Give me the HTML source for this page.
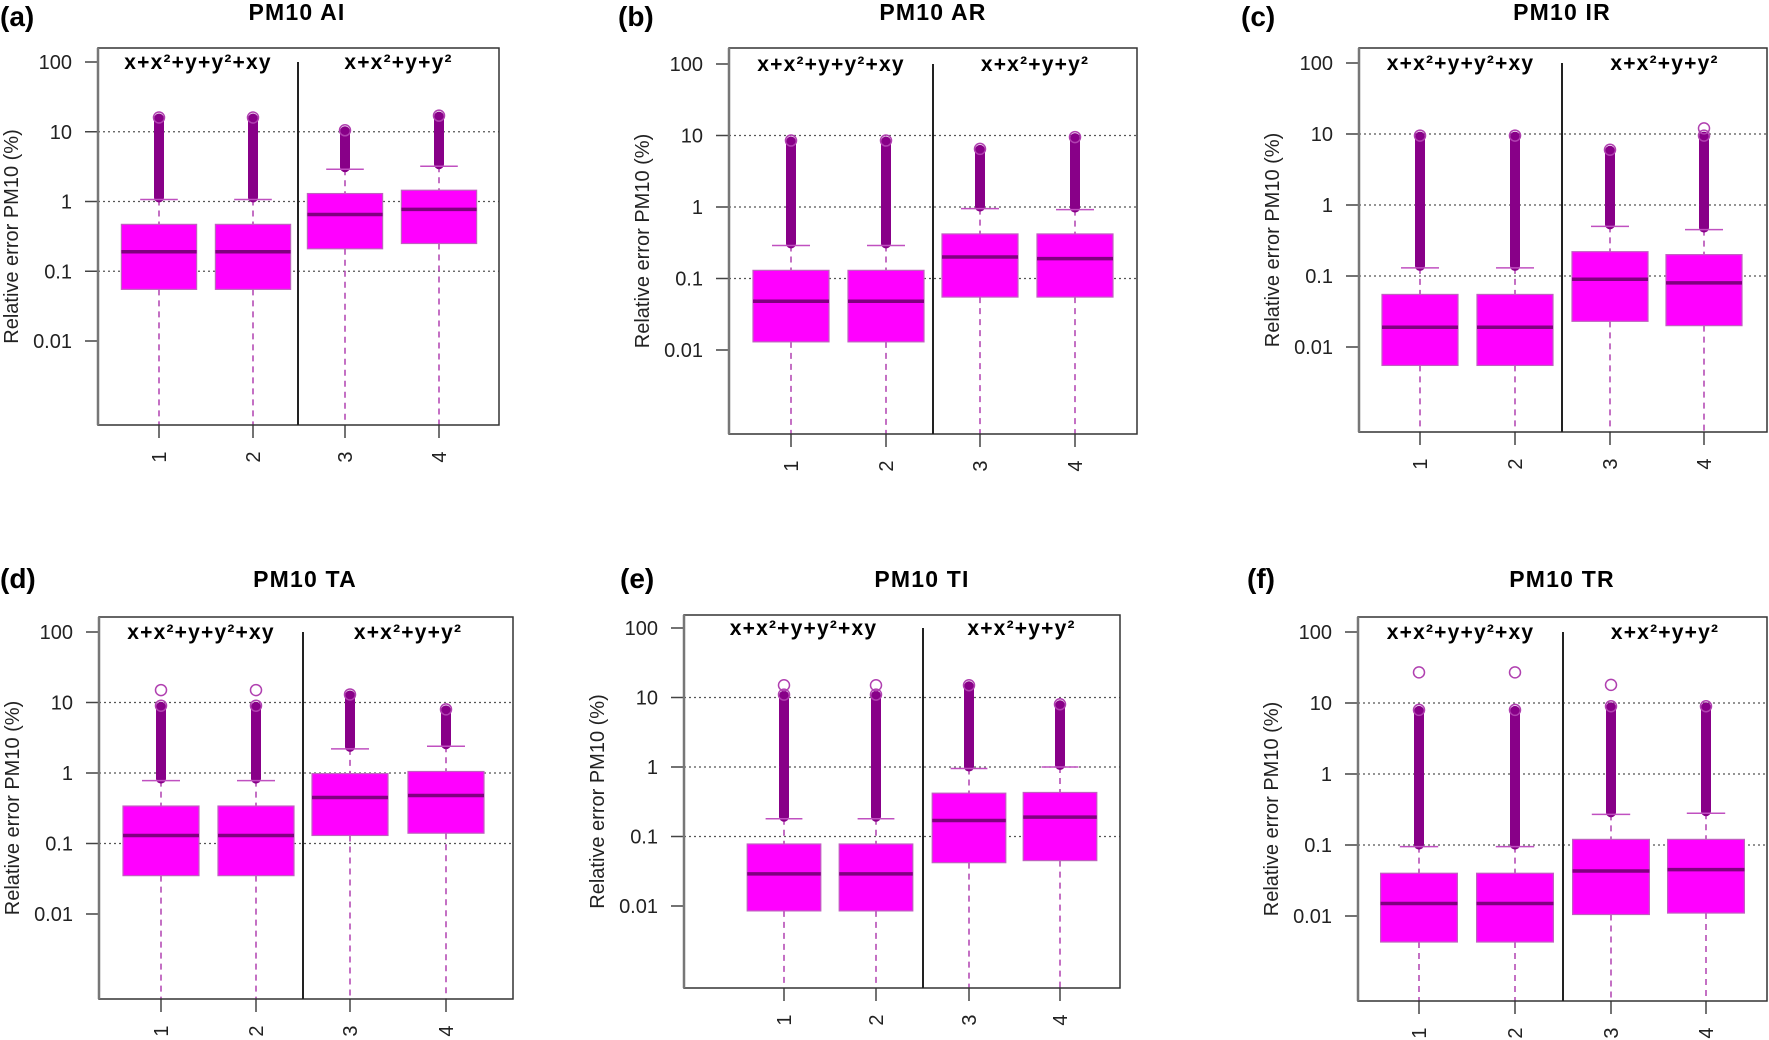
<!DOCTYPE html>
<html><head><meta charset="utf-8"><style>
html,body{margin:0;padding:0;background:#fff;}
svg{display:block;font-family:"Liberation Sans",sans-serif;}
</style></head><body>
<svg id="fig" width="1769" height="1040" viewBox="0 0 1769 1040"></svg>
<script>
// ---- data (values in %) ----
const panelTitles = ["PM10 AI","PM10 AR","PM10 IR","PM10 TA","PM10 TI","PM10 TR"];
const panelLetters = ["(a)","(b)","(c)","(d)","(e)","(f)"];
const categories = ["1","2","3","4"];
const groupLabels = ["x+x²+y+y²+xy","x+x²+y+y²"];
const yTickValues = [100,10,1,0.1,0.01];
const yTickLabels = ["100","10","1","0.1","0.01"];
const gridValues = [10,1,0.1];
const q1Values = [
 [0.055,0.055,0.21,0.25],[0.013,0.013,0.055,0.055],[0.0055,0.0055,0.023,0.02],
 [0.035,0.035,0.13,0.14],[0.0085,0.0085,0.042,0.045],[0.0043,0.0043,0.0105,0.011]];
const medianValues = [
 [0.19,0.19,0.65,0.77],[0.048,0.048,0.2,0.19],[0.019,0.019,0.09,0.08],
 [0.13,0.13,0.45,0.48],[0.029,0.029,0.17,0.19],[0.015,0.015,0.043,0.045]];
const q3Values = [
 [0.47,0.47,1.3,1.45],[0.13,0.13,0.42,0.42],[0.055,0.055,0.22,0.2],
 [0.34,0.34,0.98,1.05],[0.078,0.078,0.42,0.43],[0.04,0.04,0.12,0.12]];
const whiskerTopValues = [
 [1.07,1.07,2.9,3.2],[0.29,0.29,0.95,0.92],[0.13,0.13,0.5,0.45],
 [0.78,0.78,2.2,2.4],[0.18,0.18,0.95,1.0],[0.095,0.095,0.27,0.28]];
const denseOutlierMax = [
 [16,16,10.5,17],[8.5,8.5,6.5,9.5],[9.5,9.5,6,9.5],
 [9,9,13,8],[11,11,15,8],[8,8,9,9]];
const isolatedOutliers = [
 [[],[],[],[]],[[],[],[],[]],[[],[],[],[12]],
 [[15],[15],[],[]],[[15],[15],[],[]],[[27],[27],[18],[]]];

// ---- layout (positions only) ----
const layout = [
 {l:98,t:48,r:499,b:425,y100:62,y001:341,cx:[159,253,345,439],div:298,lx:0,ly:26,tx:297,ty:20},
 {l:729,t:48,r:1137,b:434,y100:64,y001:350,cx:[791,886,980,1075],div:933,lx:618,ly:26,tx:933,ty:20},
 {l:1359,t:48,r:1767,b:432,y100:63,y001:347,cx:[1420,1515,1610,1704],div:1562,lx:1241,ly:26,tx:1562,ty:20},
 {l:99,t:617,r:513,b:999,y100:632,y001:914,cx:[161,256,350,446],div:303,lx:0,ly:588,tx:305,ty:587},
 {l:684,t:615,r:1120,b:988,y100:628,y001:906,cx:[784,876,969,1060],div:923,lx:620,ly:588,tx:922,ty:587},
 {l:1358,t:617,r:1767,b:1001,y100:632,y001:916,cx:[1419,1515,1611,1706],div:1563,lx:1247,ly:588,tx:1562,ty:587}
];
const NS="http://www.w3.org/2000/svg";
const svg=document.getElementById('fig');
function mk(tag,attrs,parent){const e=document.createElementNS(NS,tag);for(const k in attrs)e.setAttribute(k,attrs[k]);(parent||svg).appendChild(e);return e;}

layout.forEach((L,p)=>{
  const g=mk('g',{});
  
  
  const dec=(L.y001-L.y100)/4;
  const yS=v=>L.y100+(2-Math.log10(v))*dec;
  const half=(L.cx[1]-L.cx[0])*0.4;

  let t=mk('text',{x:L.lx,y:L.ly,'font-size':28,'font-weight':'bold'},g);t.textContent=panelLetters[p];
  
  
  t=mk('text',{x:L.tx,y:L.ty,'font-size':23,'font-weight':'bold','text-anchor':'middle','letter-spacing':1.2},g);t.textContent=panelTitles[p];
  
  

  gridValues.forEach(v=>{
    const gl=mk('line',{x1:L.l,x2:L.r,y1:yS(v),y2:yS(v),stroke:'#555','stroke-width':1.3,'stroke-dasharray':'2,3'},g);
    
    
  });
  yTickValues.forEach((v,i)=>{
    const y=yS(v);
    mk('line',{x1:L.l-13,x2:L.l,y1:y,y2:y,stroke:'#444','stroke-width':1.5},g);
    const tl=mk('text',{x:L.l-26,y:y+7,'font-size':20,'text-anchor':'end',fill:'#222'},g);tl.textContent=yTickLabels[i];
    
    
  });
  const cy=(L.t+L.b)/2;
  const yt=mk('text',{x:0,y:0,'font-size':20,'text-anchor':'middle',fill:'#222',transform:`translate(${L.l-80},${cy}) rotate(-90)`},g);
  yt.textContent='Relative error PM10 (%)';
  
  

  categories.forEach((c,i)=>{
    const x=L.cx[i];
    const q1=yS(q1Values[p][i]),md=yS(medianValues[p][i]),q3=yS(q3Values[p][i]),wt=yS(whiskerTopValues[p][i]),om=yS(denseOutlierMax[p][i]);
    mk('line',{x1:x,x2:x,y1:q1,y2:L.b,stroke:'#b040b0','stroke-width':1.5,'stroke-dasharray':'6,5'},g);
    mk('line',{x1:x,x2:x,y1:wt,y2:q3,stroke:'#b040b0','stroke-width':1.5,'stroke-dasharray':'6,5'},g);
    const col=mk('rect',{x:x-5,y:om-4,width:10,height:Math.max(0,wt-om+7),rx:5,fill:'#880088'},g);
    
    
    mk('line',{x1:x-half/2,x2:x+half/2,y1:wt,y2:wt,stroke:'#c050c0','stroke-width':1.5},g);
    mk('circle',{cx:x,cy:om,r:5.5,fill:'none',stroke:'#b040b0','stroke-width':1.5},g);
    isolatedOutliers[p][i].forEach(v=>{
      const o=mk('circle',{cx:x,cy:yS(v),r:5.5,fill:'none',stroke:'#b040b0','stroke-width':1.5},g);
      
      
    });
    const b=mk('rect',{x:x-half,y:q3,width:2*half,height:q1-q3,fill:'#ff00ff',stroke:'#c060c0','stroke-width':1.2},g);
    
    
    mk('line',{x1:x-half,x2:x+half,y1:md,y2:md,stroke:'#800080','stroke-width':3.5},g);
    mk('line',{x1:x,x2:x,y1:L.b,y2:L.b+13,stroke:'#444','stroke-width':1.5},g);
    const xl=mk('text',{x:0,y:0,'font-size':20,'text-anchor':'middle',fill:'#222',transform:`translate(${x+7},${L.b+32}) rotate(-90)`},g);
    xl.textContent=c;
    
    
  });

  mk('rect',{x:L.l,y:L.t,width:L.r-L.l,height:L.b-L.t,fill:'none',stroke:'#333','stroke-width':1.5},g);
  mk('line',{x1:L.l,x2:L.l,y1:L.t,y2:L.b,stroke:'#777','stroke-width':2.5},g);
  mk('line',{x1:L.div,x2:L.div,y1:L.y100,y2:L.b,stroke:'#222','stroke-width':2},g);
  const gl1=mk('text',{x:(L.l+L.div)/2,y:L.y100+7,'font-size':21,'font-weight':'bold','text-anchor':'middle','letter-spacing':1.2},g);gl1.textContent=groupLabels[0];
  
  
  const gl2=mk('text',{x:(L.div+L.r)/2,y:L.y100+7,'font-size':21,'font-weight':'bold','text-anchor':'middle','letter-spacing':1.2},g);gl2.textContent=groupLabels[1];
  
  
});
</script>
</body></html>
